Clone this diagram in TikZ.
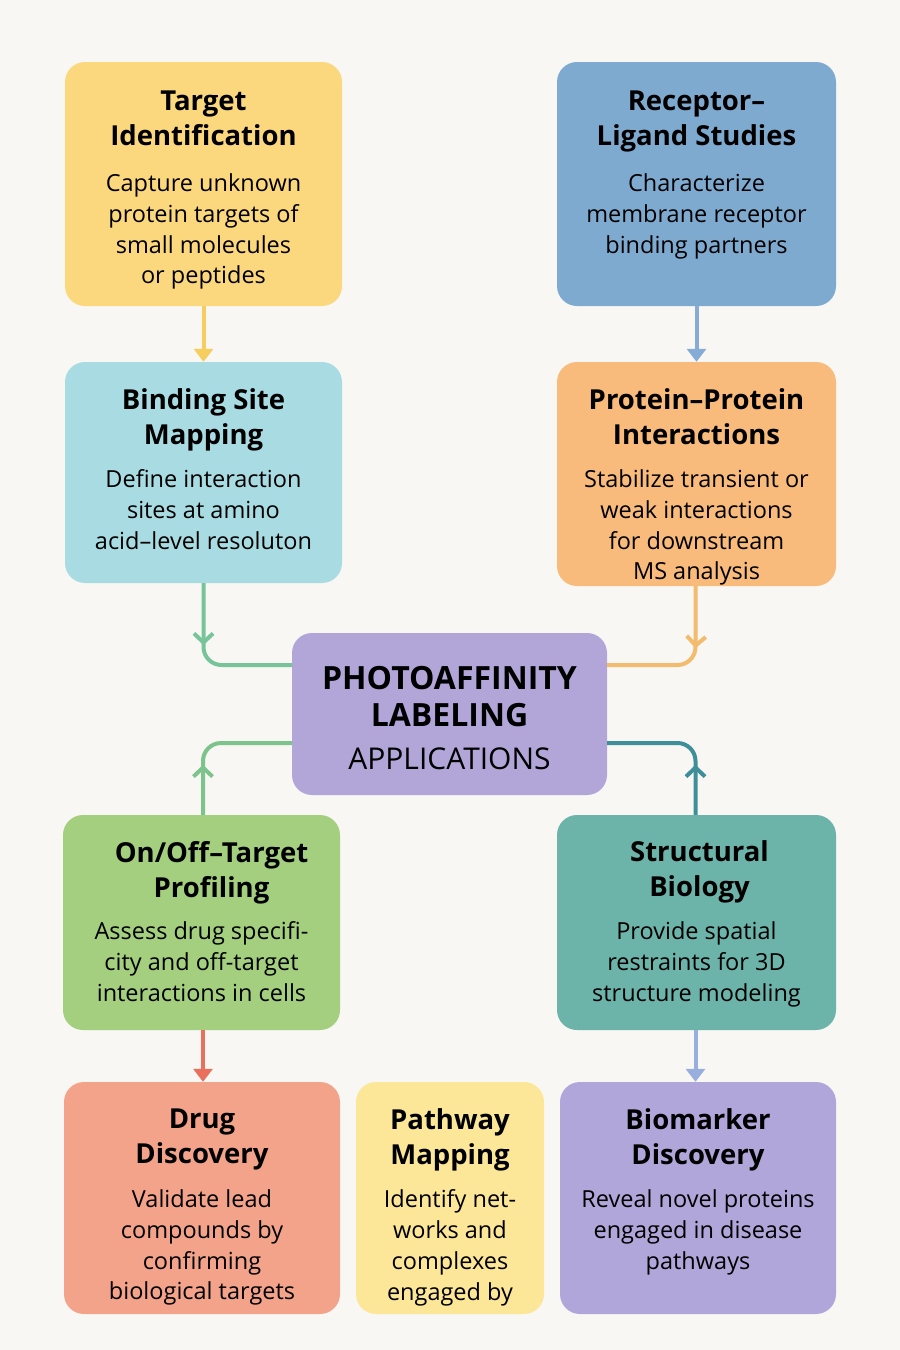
\documentclass[tikz,border=0pt]{standalone}
\usepackage{fontspec}
\setmainfont{Open Sans}
\usetikzlibrary{positioning,arrows.meta,decorations.markings}

\definecolor{bgc}{HTML}{F8F7F4}
\definecolor{tgtc}{HTML}{FBD87E}
\definecolor{recc}{HTML}{7FAACF}
\definecolor{bindc}{HTML}{A8DCE2}
\definecolor{ppic}{HTML}{F8BB7B}
\definecolor{pacc}{HTML}{B2A6D9}
\definecolor{profc}{HTML}{A3CF7E}
\definecolor{strc}{HTML}{6CB3A9}
\definecolor{drugc}{HTML}{F4A38B}
\definecolor{pathc}{HTML}{FCE697}
\definecolor{bioc}{HTML}{B1A6D9}
\definecolor{ayel}{HTML}{F7CD5E}
\definecolor{ablu}{HTML}{86ACD6}
\definecolor{agrn}{HTML}{78C49A}
\definecolor{aora}{HTML}{F3BB6E}
\definecolor{alim}{HTML}{7CC48C}
\definecolor{ateal}{HTML}{3E8F99}
\definecolor{ared}{HTML}{E8705C}
\definecolor{ablu2}{HTML}{98AEDD}

\begin{document}
\begin{tikzpicture}[x=1pt, y=-1pt,
  box/.style={rectangle, rounded corners=20pt, inner sep=0pt, minimum width=277pt},
  ttl/.style={font=\fontsize{27.5}{35}\selectfont\bfseries, align=center, inner sep=0pt},
  txt/.style={font=\fontsize{23.5}{30.7}\selectfont, align=center, inner sep=0pt},
  link/.style={line width=4pt},
  tip/.style={link, -{Triangle[length=13pt, width=19pt]}},
  elbow/.style={link, rounded corners=18pt},
  midtip/.style={postaction={decorate}, decoration={markings, mark=at position #1 with {\arrow{Straight Barb[length=9pt, width=19pt]}}}}]
  \fill[bgc] (0,0) rectangle (900,1350);

  % top row
  \node[box, fill=tgtc, minimum height=244pt] (T) at (203.5,184) {};
  \node[ttl, below=29pt of T.north] (T_title) {Target\\Identification};
  \node[txt, below=112pt of T.north] (T_text) {Capture unknown\\protein targets of\\small molecules\\or peptides};
  \node[box, fill=recc, minimum width=279pt, minimum height=244pt] (R) at (696.5,184) {};
  \node[ttl, below=29pt of R.north] (R_title) {Receptor–\\Ligand Studies};
  \node[txt, below=112pt of R.north] (R_text) {Characterize\\membrane receptor\\binding partners};

  % second row
  \node[box, fill=bindc, minimum height=221pt] (B) at (203.5,472.5) {};
  \node[ttl, below=27pt of B.north] (B_title) {Binding Site\\Mapping};
  \node[txt, below=108pt of B.north] (B_text) {Define interaction\\sites at amino\\acid–level resoluton};
  \node[box, fill=ppic, minimum width=279pt, minimum height=224pt] (P) at (696.5,474) {};
  \node[ttl, below=27pt of P.north] (P_title) {Protein–Protein\\Interactions};
  \node[txt, below=108pt of P.north] (P_text) {Stabilize transient or\\weak interactions\\for downstream\\MS analysis};

  % center
  \node[box, fill=pacc, minimum width=315pt, minimum height=162pt] (C) at (449.5,714) {};
  \node[below=33pt of C.north, font=\fontsize{32}{37}\selectfont\bfseries, align=center, inner sep=0pt] (C_title) {PHOTOAFFINITY\\LABELING};
  \node[below=115pt of C.north, font=\fontsize{30}{36}\selectfont, inner sep=0pt] (C_text) {APPLICATIONS};

  % third row
  \node[box, fill=profc, minimum height=215pt] (O) at (201.5,922.5) {};
  \node[ttl, below=26pt of O.north, xshift=10pt] (O_title) {On/Off–Target\\Profiling};
  \node[txt, below=107pt of O.north] (O_text) {Assess drug specifi-\\city and off-target\\interactions in cells};
  \node[box, fill=strc, minimum width=279pt, minimum height=215pt] (S) at (696.5,922.5) {};
  \node[ttl, below=26pt of S.north, xshift=3pt] (S_title) {Structural\\Biology};
  \node[txt, below=107pt of S.north] (S_text) {Provide spatial\\restraints for 3D\\structure modeling};

  % bottom row
  \node[box, fill=drugc, minimum width=276pt, minimum height=232pt] (D) at (202,1198) {};
  \node[ttl, below=27pt of D.north] (D_title) {Drug\\Discovery};
  \node[txt, below=108pt of D.north] (D_text) {Validate lead\\compounds by\\confirming\\biological targets};
  \node[box, fill=pathc, minimum width=188pt, minimum height=232pt] (W) at (450,1198) {};
  \node[ttl, below=27pt of W.north] (W_title) {Pathway\\Mapping};
  \node[txt, below=108pt of W.north] (W_text) {Identify net-\\works and\\complexes\\engaged by};
  \node[box, fill=bioc, minimum width=276pt, minimum height=232pt] (M) at (698,1198) {};
  \node[ttl, below=27pt of M.north] (M_title) {Biomarker\\Discovery};
  \node[txt, below=108pt of M.north] (M_text) {Reveal novel proteins\\engaged in disease\\pathways};

  % connectors
  \draw[tip, ayel] (T.south) -- (B.north);
  \draw[tip, ablu] (R.south) -- (P.north);
  \draw[elbow, agrn, midtip=62pt] (B.south) |- ([yshift=49pt]C.west);
  \draw[elbow, aora, midtip=62pt] ([xshift=-1pt]P.south) |- ([yshift=49pt]C.east);
  \draw[elbow, alim, midtip=50pt] ([xshift=1.5pt]O.north) |- ([yshift=-29pt]C.west);
  \draw[elbow, ateal, midtip=50pt] ([xshift=-1pt]S.north) |- ([yshift=-29pt]C.east);
  \draw[tip, ared] ([xshift=1.5pt]O.south) -- ([xshift=1.5pt]O.south |- D.north);
  \draw[tip, ablu2] ([xshift=-1pt]S.south) -- ([xshift=-1pt]S.south |- M.north);
\end{tikzpicture}
\end{document}
